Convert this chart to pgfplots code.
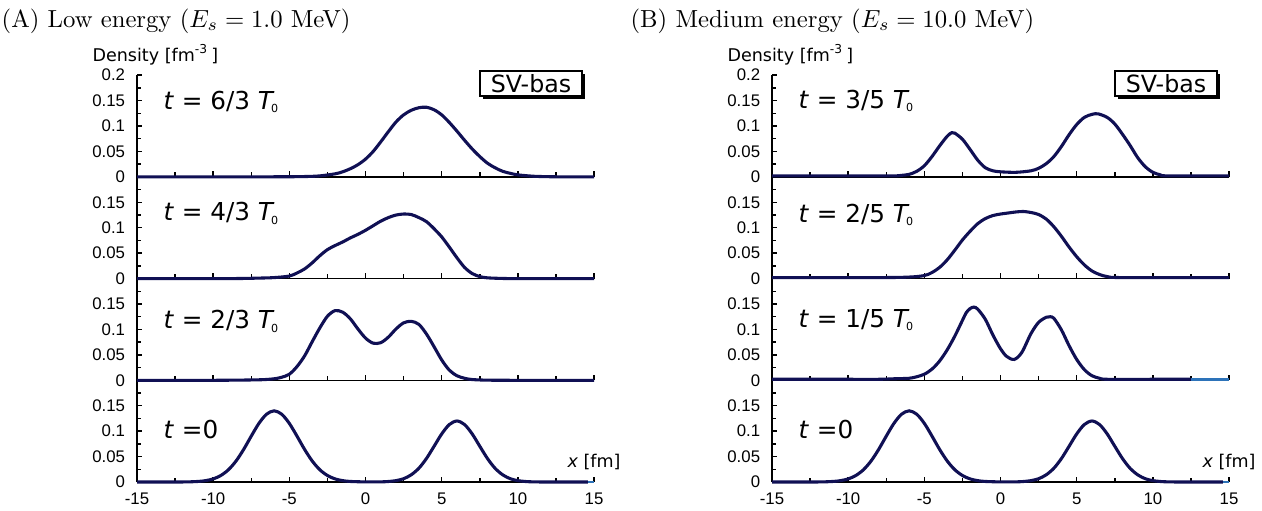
\documentclass[border=0pt]{standalone}
\usepackage{fontspec}
\usepackage{pgfplots}
\pgfplotsset{compat=1.18}
\usetikzlibrary{shadows}
\newfontfamily\dejavu{DejaVu Sans}
\newfontfamily\libsans{Liberation Sans}
\definecolor{curve}{RGB}{16,16,84}
\definecolor{tailblue}{RGB}{45,115,185}

% time stamp text, T with a tiny 0
\newcommand{\tlab}[1]{{\dejavu\fontsize{10}{12}\selectfont #1}}
\newcommand{\Tnull}{\textit{T}\kern-0.14em\raisebox{-0.25ex}{\fontsize{4.5}{5}\selectfont 0}}

\pgfplotsset{
  panel/.style={
    scale only axis, width=185.1pt, height=41.19pt,
    xmin=-15, xmax=15, ymin=0, ymax=0.2,
    axis lines*=left,
    axis line style={black, line width=0.6pt},
    tick align=inside,
    xtick={-15,-10,-5,0,5,10,15},
    minor xtick={-12.5,-7.5,-2.5,2.5,7.5,12.5},
    ytick={0,0.05,0.1,0.15,0.2},
    minor ytick={0.025,0.075,0.125,0.175},
    major tick length=2.2pt, minor tick length=1.8pt,
    tick style={black, line width=0.6pt},
    xticklabels={}, yticklabels={0,0.05,0.1,0.15,},
    ticklabel style={font=\libsans\fontsize{6.8}{7.5}\selectfont},
    yticklabel style={xshift=-1.3pt},
    xticklabel style={yshift=-1pt},
    clip=false, anchor=south west,
  },
  bottompanel/.style={panel, xticklabels={-15,-10,-5,0,5,10,15}},
  toppanel/.style={panel, yticklabels={0,0.05,0.1,0.15,0.2}},
  dens/.style={curve, line width=1.25pt, smooth},
}
\newcommand{\svbox}{\node[draw=black, line width=0.7pt, fill=white,
    drop shadow={shadow xshift=1.3pt, shadow yshift=-1.3pt, opacity=1, fill=black},
    minimum width=41.3pt, minimum height=10.1pt, inner sep=0pt,
    font=\dejavu\fontsize{9.6}{11}\selectfont] at (rel axis cs:0.862,0.916) {SV-bas};}
\newcommand{\denslab}{\node[anchor=base west, inner sep=0, xshift=-18.2pt, yshift=5.7pt,
    font=\dejavu\fontsize{7.1}{8}\selectfont] at (rel axis cs:0,1) {Density [fm\textsuperscript{-3}\,]};}
\newcommand{\xlab}{\node[anchor=base, inner sep=0, yshift=5.7pt,
    font=\dejavu\fontsize{7.1}{8}\selectfont] at (rel axis cs:1,0) {\textit{x} [fm]};}

\begin{document}
\begin{tikzpicture}
\useasboundingbox (0,0) rectangle (511.1pt,206.55pt);

\node[anchor=base west, inner sep=0] at (0.5pt,195.6pt) {(A) Low energy ($E_s=1.0$ MeV)};
\node[anchor=base west, inner sep=0] at (255.2pt,195.6pt) {(B) Medium energy ($E_s=10.0$ MeV)};

% ---------------- (A) low energy ----------------
\begin{axis}[bottompanel, at={(55.49pt,11.34pt)}]
\addplot[dens] coordinates {(-15,0)(-12,0.0001)(-11,0.0011)(-10.5,0.0027)(-10,0.0061)(-9.5,0.0128)(-9,0.0241)(-8.5,0.0413)(-8,0.0641)(-7.5,0.0903)(-7,0.1152)(-6.5,0.1333)(-6,0.14)(-5.5,0.1333)(-5,0.1152)(-4.5,0.0903)(-4,0.0641)(-3.5,0.0413)(-3,0.0241)(-2.5,0.0128)(-2,0.0061)(-1.5,0.0027)(-1,0.0011)(0,0.0002)(1,0.0003)(1.5,0.001)(2,0.0027)(2.5,0.0065)(3,0.0142)(3.5,0.0271)(4,0.0463)(4.5,0.0703)(5,0.0946)(5.5,0.113)(6,0.12)(6.5,0.113)(7,0.0946)(7.5,0.0703)(8,0.0463)(8.5,0.0271)(9,0.0142)(9.5,0.0065)(10,0.0027)(10.5,0.001)(11,0.0003)(12,0)(14.6,0)};
\addplot[tailblue, line width=1.2pt] coordinates {(14.6,0)(15,0)};
\node[anchor=west, inner sep=0] at (rel axis cs:0.057,0.515) {\tlab{\textit{t} =0}};
\xlab
\end{axis}

\begin{axis}[panel, at={(55.49pt,52.53pt)}]
\addplot[dens] coordinates {(-15,0)(-10,0)(-7,0.001)(-6,0.003)(-5.5,0.006)(-5,0.012)(-4.5,0.027)(-4,0.048)(-3.5,0.076)(-3,0.103)(-2.5,0.126)(-2,0.137)(-1.5,0.134)(-1,0.121)(-0.5,0.101)(0,0.083)(0.5,0.073)(1,0.074)(1.5,0.085)(2,0.101)(2.5,0.113)(3,0.116)(3.5,0.110)(4,0.091)(4.5,0.066)(5,0.040)(5.5,0.020)(6,0.009)(6.5,0.004)(7,0.0015)(8,0.0003)(10,0)(15,0)};
\node[anchor=west, inner sep=0] at (rel axis cs:0.057,0.58) {\tlab{\textit{t} = 2/3 \Tnull}};
\end{axis}

\begin{axis}[panel, at={(55.49pt,93.72pt)}]
\addplot[dens] coordinates {(-15,0)(-9,0)(-7,0.001)(-6,0.002)(-5,0.005)(-4.5,0.011)(-4,0.019)(-3.5,0.031)(-3,0.045)(-2.5,0.057)(-2,0.065)(-1.5,0.072)(-1,0.080)(-0.5,0.087)(0,0.095)(0.5,0.104)(1,0.113)(1.5,0.120)(2,0.125)(2.5,0.127)(3,0.126)(3.5,0.120)(4,0.112)(4.5,0.098)(5,0.082)(5.5,0.062)(6,0.041)(6.5,0.022)(7,0.010)(7.5,0.004)(8,0.0015)(9,0.0003)(10,0)(15,0)};
\node[anchor=west, inner sep=0] at (rel axis cs:0.057,0.64) {\tlab{\textit{t} = 4/3 \Tnull}};
\end{axis}

\begin{axis}[toppanel, at={(55.49pt,134.91pt)}]
\addplot[dens] coordinates {(-15,0)(-6,0.0002)(-4,0.0007)(-3,0.002)(-2,0.006)(-1.5,0.010)(-1,0.016)(-0.5,0.024)(0,0.035)(0.5,0.050)(1,0.069)(1.5,0.089)(2,0.108)(2.5,0.122)(3,0.131)(3.5,0.136)(4,0.137)(4.5,0.132)(5,0.122)(5.5,0.107)(6,0.090)(6.5,0.072)(7,0.055)(7.5,0.040)(8,0.027)(8.5,0.018)(9,0.011)(9.5,0.007)(10,0.004)(11,0.0013)(12,0.0004)(13,0.0001)(15,0)};
\node[anchor=west, inner sep=0] at (rel axis cs:0.057,0.74) {\tlab{\textit{t} = 6/3 \Tnull}};
\svbox
\denslab
\end{axis}

% ---------------- (B) medium energy ----------------
\begin{axis}[bottompanel, at={(312.66pt,11.34pt)}]
\addplot[dens] coordinates {(-15,0)(-12,0.0001)(-11,0.0011)(-10.5,0.0027)(-10,0.0061)(-9.5,0.0128)(-9,0.0241)(-8.5,0.0413)(-8,0.0641)(-7.5,0.0903)(-7,0.1152)(-6.5,0.1333)(-6,0.14)(-5.5,0.1333)(-5,0.1152)(-4.5,0.0903)(-4,0.0641)(-3.5,0.0413)(-3,0.0241)(-2.5,0.0128)(-2,0.0061)(-1.5,0.0027)(-1,0.0011)(0,0.0002)(1,0.0003)(1.5,0.001)(2,0.0027)(2.5,0.0065)(3,0.0142)(3.5,0.0271)(4,0.0463)(4.5,0.0703)(5,0.0946)(5.5,0.113)(6,0.12)(6.5,0.113)(7,0.0946)(7.5,0.0703)(8,0.0463)(8.5,0.0271)(9,0.0142)(9.5,0.0065)(10,0.0027)(10.5,0.001)(11,0.0003)(12,0)(14.6,0)};
\addplot[tailblue, line width=1.2pt] coordinates {(14.6,0)(15,0)};
\node[anchor=west, inner sep=0] at (rel axis cs:0.057,0.515) {\tlab{\textit{t} =0}};
\xlab
\end{axis}

\begin{axis}[panel, at={(312.66pt,52.53pt)}]
\addplot[dens] coordinates {(-15,0.002)(-10,0.002)(-8,0.002)(-7,0.003)(-6,0.004)(-5.5,0.007)(-5,0.012)(-4.5,0.022)(-4,0.038)(-3.5,0.060)(-3,0.087)(-2.5,0.118)(-2.25,0.133)(-2,0.141)(-1.75,0.144)(-1.5,0.140)(-1,0.120)(-0.5,0.089)(0,0.062)(0.4,0.047)(0.9,0.041)(1.4,0.055)(2,0.092)(2.5,0.114)(3,0.124)(3.25,0.125)(3.5,0.122)(4,0.099)(4.5,0.068)(5,0.041)(5.5,0.021)(6,0.009)(6.5,0.004)(7,0.002)(10,0.002)(12.5,0.002)};
\addplot[tailblue, line width=1pt] coordinates {(12.5,0.002)(15,0.002)};
\node[anchor=west, inner sep=0] at (rel axis cs:0.057,0.59) {\tlab{\textit{t} = 1/5 \Tnull}};
\end{axis}

\begin{axis}[panel, at={(312.66pt,93.72pt)}]
\addplot[dens] coordinates {(-15,0.002)(-8,0.002)(-6,0.003)(-5,0.006)(-4.5,0.012)(-4,0.022)(-3.5,0.037)(-3,0.056)(-2.5,0.076)(-2,0.093)(-1.5,0.108)(-1,0.118)(-0.5,0.124)(0,0.127)(0.5,0.129)(1,0.131)(1.5,0.132)(2,0.130)(2.5,0.126)(3,0.117)(3.5,0.102)(4,0.083)(4.5,0.062)(5,0.043)(5.5,0.027)(6,0.015)(6.5,0.008)(7,0.004)(8,0.002)(15,0.002)};
\node[anchor=west, inner sep=0] at (rel axis cs:0.057,0.625) {\tlab{\textit{t} = 2/5 \Tnull}};
\end{axis}

\begin{axis}[toppanel, at={(312.66pt,134.91pt)}]
\addplot[dens] coordinates {(-15,0.002)(-9,0.002)(-7,0.002)(-6.5,0.003)(-6,0.005)(-5.5,0.011)(-5,0.022)(-4.5,0.040)(-4,0.061)(-3.5,0.080)(-3.2,0.087)(-3,0.086)(-2.5,0.074)(-2,0.054)(-1.5,0.033)(-1,0.018)(-0.5,0.012)(0,0.010)(1,0.009)(2,0.012)(2.5,0.017)(3,0.026)(3.5,0.040)(4,0.060)(4.5,0.083)(5,0.103)(5.5,0.117)(6,0.123)(6.4,0.124)(7,0.117)(7.5,0.104)(8,0.084)(8.5,0.062)(9,0.038)(9.5,0.020)(10,0.009)(10.5,0.004)(11,0.002)(15,0.002)};
\node[anchor=west, inner sep=0] at (rel axis cs:0.057,0.745) {\tlab{\textit{t} = 3/5 \Tnull}};
\svbox
\denslab
\end{axis}
\end{tikzpicture}
\end{document}
